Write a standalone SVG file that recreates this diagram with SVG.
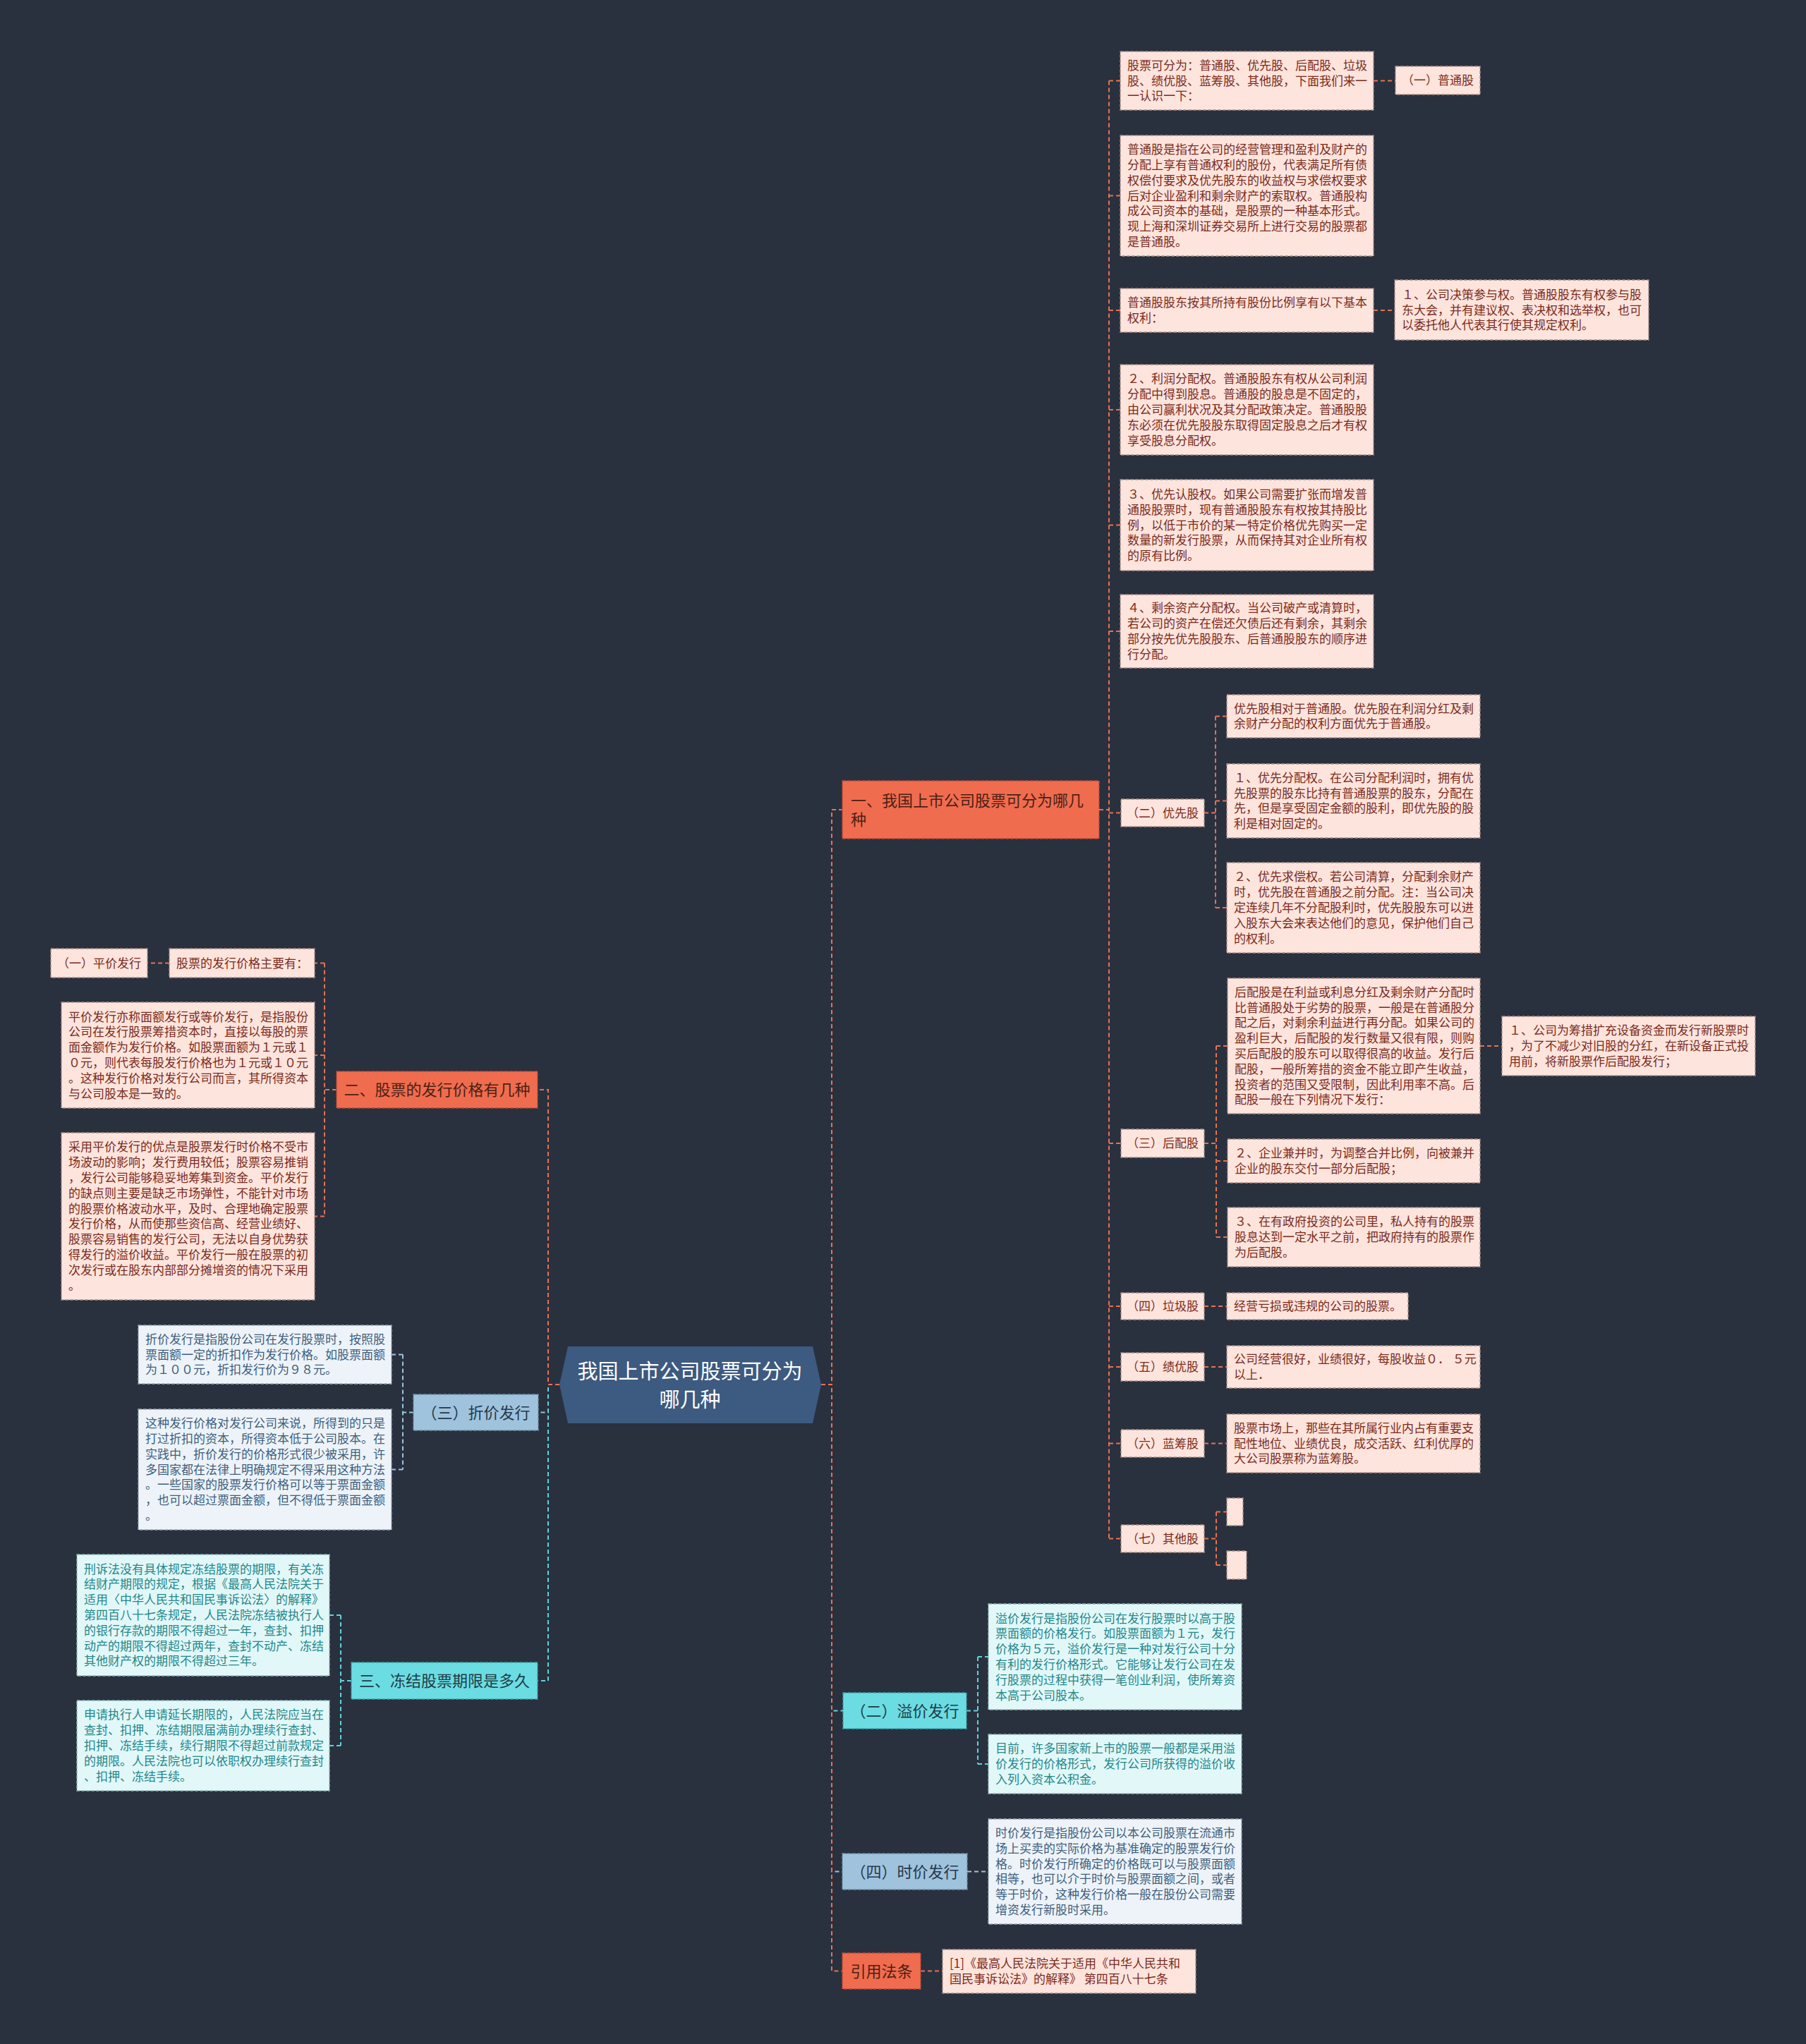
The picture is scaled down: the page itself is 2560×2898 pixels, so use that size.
<svg xmlns="http://www.w3.org/2000/svg" width="2560" height="2898" viewBox="0 0 2560 2898">
<style>
text{font-family:"Noto Sans CJK SC","Noto Sans",sans-serif}
.cn{fill:none;stroke-width:2;stroke-dasharray:6,4}
.or{stroke:#e9704f}.cy{stroke:#5fd3dc}.bl{stroke:#9cc3de}
.box{stroke-width:1.3;stroke-dasharray:5,2}
.lp{fill:#fde4dc;stroke:#a98f88}
.lc{fill:#e2f8f8;stroke:#8fb4b6}
.lb{fill:#edf3f8;stroke:#95a6b4}
.no{fill:#f06c4e;stroke:#b84a33}
.nc{fill:#6cdce3;stroke:#3f9ea5}
.nb{fill:#9fc3dc;stroke:#6f90a8}
.tp{fill:#7b2b1d;font-size:17px}
.tc{fill:#23878c;font-size:17px}
.tb{fill:#3d5f80;font-size:17px}
.to{fill:#4d1f14;font-size:22px}
.tcy{fill:#1d3c44;font-size:22px}
.tbl{fill:#26394d;font-size:22px}
.m{text-anchor:middle}
</style>
<rect width="2560" height="2898" fill="#29313f"/>
<g id="connectors">
<path class="cn or" d="M1164,1963H1179V1148H1194"/>
<path class="cn cy" d="M1164,1963H1179V2425.5H1195"/>
<path class="cn bl" d="M1164,1963H1179V2653.5H1194"/>
<path class="cn or" d="M1164,1963H1179V2794.5H1194"/>
<path class="cn bl" d="M793,1963H777V2002.5H763"/>
<path class="cn cy" d="M793,1963H777V2383H762"/>
<path class="cn or" d="M793,1963H777V1545H762"/>
<path class="cn or" d="M1558,1148H1572"/>
<path class="cn or" d="M1572,114.5V2181.5"/>
<path class="cn or" d="M1572,114.5H1588M1572,277.5H1588M1572,440H1588M1572,581H1588M1572,744.5H1588M1572,895H1588M1572,1152.5H1589M1572,1621H1589M1572,1852H1589M1572,1938H1589M1572,2046.5H1589M1572,2181.5H1589"/>
<path class="cn or" d="M1947,114.5H1978M1947,440H1977"/>
<path class="cn or" d="M1707,1152.5H1723M1723,1015.5V1287M1723,1015.5H1739M1723,1135.5H1739M1723,1287H1739"/>
<path class="cn or" d="M1707,1621H1724M1724,1483V1754M1724,1483H1740M1724,1646H1740M1724,1754H1740M2098,1483H2129"/>
<path class="cn or" d="M1707,1852H1739M1707,1938H1739M1707,2046.5H1739M1707,2181.5H1724M1724,2143.5V2219M1724,2143.5H1739M1724,2219H1739"/>
<path class="cn or" d="M477,1545H460M460,1365.5V1724.5M460,1365.5H446M460,1496H446M460,1724.5H446M240,1365.5H209"/>
<path class="cn bl" d="M586,2002.5H571M571,1920.5V2083.5M571,1920.5H555M571,2083.5H555"/>
<path class="cn cy" d="M498,2383H483M483,2290V2475M483,2290H467M483,2475H467"/>
<path class="cn cy" d="M1370,2425.5H1386M1386,2349V2501M1386,2349H1401M1386,2501H1401"/>
<path class="cn bl" d="M1371,2653.5H1401"/>
<path class="cn or" d="M1305,2794.5H1336"/>
</g>
<g id="center">
<polygon points="793,1963 805,1909 1152,1909 1164,1963 1152,2018 805,2018" fill="#3d5a80"/>
<text x="978" fill="#ffffff" font-size="29" class="m"><tspan x="978" y="1955">我国上市公司股票可分为</tspan><tspan x="978" y="1995">哪几种</tspan></text>
</g>
<g id="b1">
<rect class="box no" x="1194" y="1107" width="364" height="82"/>
<text class="to"><tspan x="1206" y="1143">一、我国上市公司股票可分为哪几</tspan><tspan x="1206" y="1170">种</tspan></text>
</g>
<g id="b1-intro">
<rect class="box lp" x="1588" y="73" width="359" height="83"/>
<text class="tp"><tspan x="1598" y="99">股票可分为：普通股、优先股、后配股、垃圾</tspan><tspan x="1598" y="121">股、绩优股、蓝筹股、其他股，下面我们来一</tspan><tspan x="1598" y="142">一认识一下：</tspan></text>
</g>
<g id="b1-ptg">
<rect class="box lp" x="1978" y="94" width="120" height="40"/>
<text class="tp m" x="2038" y="120">（一）普通股</text>
</g>
<g id="b1-def">
<rect class="box lp" x="1588" y="192" width="359" height="171"/>
<text class="tp"><tspan x="1598" y="218">普通股是指在公司的经营管理和盈利及财产的</tspan><tspan x="1598" y="240">分配上享有普通权利的股份，代表满足所有债</tspan><tspan x="1598" y="262">权偿付要求及优先股东的收益权与求偿权要求</tspan><tspan x="1598" y="283.5">后对企业盈利和剩余财产的索取权。普通股构</tspan><tspan x="1598" y="305">成公司资本的基础，是股票的一种基本形式。</tspan><tspan x="1598" y="327">现上海和深圳证券交易所上进行交易的股票都</tspan><tspan x="1598" y="349">是普通股。</tspan></text>
</g>
<g id="b1-rights">
<rect class="box lp" x="1588" y="409" width="359" height="62"/>
<text class="tp"><tspan x="1598" y="435">普通股股东按其所持有股份比例享有以下基本</tspan><tspan x="1598" y="457">权利：</tspan></text>
</g>
<g id="b1-r1">
<rect class="box lp" x="1977" y="397" width="360" height="85"/>
<text class="tp"><tspan x="1987" y="424">１、公司决策参与权。普通股股东有权参与股</tspan><tspan x="1987" y="445.5">东大会，并有建议权、表决权和选举权，也可</tspan><tspan x="1987" y="467">以委托他人代表其行使其规定权利。</tspan></text>
</g>
<g id="b1-r2">
<rect class="box lp" x="1588" y="517" width="359" height="128"/>
<text class="tp"><tspan x="1598" y="543.4">２、利润分配权。普通股股东有权从公司利润</tspan><tspan x="1598" y="565.2">分配中得到股息。普通股的股息是不固定的，</tspan><tspan x="1598" y="587">由公司赢利状况及其分配政策决定。普通股股</tspan><tspan x="1598" y="608.8">东必须在优先股股东取得固定股息之后才有权</tspan><tspan x="1598" y="630.6">享受股息分配权。</tspan></text>
</g>
<g id="b1-r3">
<rect class="box lp" x="1588" y="680" width="359" height="129"/>
<text class="tp"><tspan x="1598" y="706.9">３、优先认股权。如果公司需要扩张而增发普</tspan><tspan x="1598" y="728.7">通股股票时，现有普通股股东有权按其持股比</tspan><tspan x="1598" y="750.5">例，以低于市价的某一特定价格优先购买一定</tspan><tspan x="1598" y="772.3">数量的新发行股票，从而保持其对企业所有权</tspan><tspan x="1598" y="794.1">的原有比例。</tspan></text>
</g>
<g id="b1-r4">
<rect class="box lp" x="1588" y="843" width="359" height="104"/>
<text class="tp"><tspan x="1598" y="868.3">４、剩余资产分配权。当公司破产或清算时，</tspan><tspan x="1598" y="890.1">若公司的资产在偿还欠债后还有剩余，其剩余</tspan><tspan x="1598" y="911.9">部分按先优先股股东、后普通股股东的顺序进</tspan><tspan x="1598" y="933.7">行分配。</tspan></text>
</g>
<g id="b1-yxg">
<rect class="box lp" x="1589" y="1133" width="118" height="39"/>
<text class="tp m" x="1648" y="1158.5">（二）优先股</text>
</g>
<g id="yxg-a">
<rect class="box lp" x="1739" y="985" width="359" height="61"/>
<text class="tp"><tspan x="1749" y="1010.6">优先股相对于普通股。优先股在利润分红及剩</tspan><tspan x="1749" y="1032.4">余财产分配的权利方面优先于普通股。</tspan></text>
</g>
<g id="yxg-b">
<rect class="box lp" x="1739" y="1083" width="359" height="105"/>
<text class="tp"><tspan x="1749" y="1108.8">１、优先分配权。在公司分配利润时，拥有优</tspan><tspan x="1749" y="1130.6">先股票的股东比持有普通股票的股东，分配在</tspan><tspan x="1749" y="1152.4">先，但是享受固定金额的股利，即优先股的股</tspan><tspan x="1749" y="1174.2">利是相对固定的。</tspan></text>
</g>
<g id="yxg-c">
<rect class="box lp" x="1739" y="1223" width="359" height="128"/>
<text class="tp"><tspan x="1749" y="1249.4">２、优先求偿权。若公司清算，分配剩余财产</tspan><tspan x="1749" y="1271.2">时，优先股在普通股之前分配。注：当公司决</tspan><tspan x="1749" y="1293">定连续几年不分配股利时，优先股股东可以进</tspan><tspan x="1749" y="1314.8">入股东大会来表达他们的意见，保护他们自己</tspan><tspan x="1749" y="1336.6">的权利。</tspan></text>
</g>
<g id="b1-hpg">
<rect class="box lp" x="1589" y="1601" width="118" height="40"/>
<text class="tp m" x="1648" y="1627">（三）后配股</text>
</g>
<g id="hpg-a">
<rect class="box lp" x="1740" y="1387" width="358" height="192"/>
<text class="tp"><tspan x="1750" y="1412.7">后配股是在利益或利息分红及剩余财产分配时</tspan><tspan x="1750" y="1434.5">比普通股处于劣势的股票，一般是在普通股分</tspan><tspan x="1750" y="1456.3">配之后，对剩余利益进行再分配。如果公司的</tspan><tspan x="1750" y="1478.1">盈利巨大，后配股的发行数量又很有限，则购</tspan><tspan x="1750" y="1499.9">买后配股的股东可以取得很高的收益。发行后</tspan><tspan x="1750" y="1521.7">配股，一般所筹措的资金不能立即产生收益，</tspan><tspan x="1750" y="1543.5">投资者的范围又受限制，因此利用率不高。后</tspan><tspan x="1750" y="1565.3">配股一般在下列情况下发行：</tspan></text>
</g>
<g id="hpg-a1">
<rect class="box lp" x="2129" y="1441" width="359" height="84"/>
<text class="tp"><tspan x="2139" y="1467.2">１、公司为筹措扩充设备资金而发行新股票时</tspan><tspan x="2139" y="1489">，为了不减少对旧股的分红，在新设备正式投</tspan><tspan x="2139" y="1510.8">用前，将新股票作后配股发行；</tspan></text>
</g>
<g id="hpg-b">
<rect class="box lp" x="1740" y="1615" width="358" height="62"/>
<text class="tp"><tspan x="1750" y="1641.1">２、企业兼并时，为调整合并比例，向被兼并</tspan><tspan x="1750" y="1662.9">企业的股东交付一部分后配股；</tspan></text>
</g>
<g id="hpg-c">
<rect class="box lp" x="1740" y="1712" width="358" height="84"/>
<text class="tp"><tspan x="1750" y="1738.2">３、在有政府投资的公司里，私人持有的股票</tspan><tspan x="1750" y="1760">股息达到一定水平之前，把政府持有的股票作</tspan><tspan x="1750" y="1781.8">为后配股。</tspan></text>
</g>
<g id="b1-ljg">
<rect class="box lp" x="1589" y="1833" width="118" height="38"/>
<text class="tp m" x="1648" y="1858">（四）垃圾股</text>
</g>
<g id="ljg-a">
<rect class="box lp" x="1739" y="1833" width="257" height="38"/>
<text class="tp" x="1749" y="1858">经营亏损或违规的公司的股票。</text>
</g>
<g id="b1-jyg">
<rect class="box lp" x="1589" y="1918" width="118" height="40"/>
<text class="tp m" x="1648" y="1944">（五）绩优股</text>
</g>
<g id="jyg-a">
<rect class="box lp" x="1739" y="1908" width="359" height="60"/>
<text class="tp"><tspan x="1749" y="1933.1">公司经营很好，业绩很好，每股收益０． ５元</tspan><tspan x="1749" y="1954.9">以上．</tspan></text>
</g>
<g id="b1-lcg">
<rect class="box lp" x="1589" y="2027" width="118" height="39"/>
<text class="tp m" x="1648" y="2052.5">（六）蓝筹股</text>
</g>
<g id="lcg-a">
<rect class="box lp" x="1739" y="2005" width="359" height="83"/>
<text class="tp"><tspan x="1749" y="2030.7">股票市场上，那些在其所属行业内占有重要支</tspan><tspan x="1749" y="2052.5">配性地位、业绩优良，成交活跃、红利优厚的</tspan><tspan x="1749" y="2074.3">大公司股票称为蓝筹股。</tspan></text>
</g>
<g id="b1-qtg">
<rect class="box lp" x="1589" y="2162" width="118" height="39"/>
<text class="tp m" x="1648" y="2187.5">（七）其他股</text>
</g>
<g id="qtg-a"><rect class="box lp" x="1739" y="2124" width="23" height="39"/></g>
<g id="qtg-b"><rect class="box lp" x="1739" y="2199" width="28" height="40"/></g>
<g id="b2">
<rect class="box no" x="477" y="1519" width="285" height="52"/>
<text class="to m" x="619.5" y="1553">二、股票的发行价格有几种</text>
</g>
<g id="b2-main">
<rect class="box lp" x="240" y="1345" width="206" height="41"/>
<text class="tp" x="250" y="1371.5">股票的发行价格主要有：</text>
</g>
<g id="b2-pj">
<rect class="box lp" x="72" y="1345" width="137" height="41"/>
<text class="tp m" x="140.5" y="1371.5">（一）平价发行</text>
</g>
<g id="b2-pj1">
<rect class="box lp" x="87" y="1421" width="359" height="150"/>
<text class="tp"><tspan x="97" y="1447.5">平价发行亦称面额发行或等价发行，是指股份</tspan><tspan x="97" y="1469.3">公司在发行股票筹措资本时，直接以每股的票</tspan><tspan x="97" y="1491.1">面金额作为发行价格。如股票面额为１元或１</tspan><tspan x="97" y="1512.9">０元，则代表每股发行价格也为１元或１０元</tspan><tspan x="97" y="1534.7">。这种发行价格对发行公司而言，其所得资本</tspan><tspan x="97" y="1556.5">与公司股本是一致的。</tspan></text>
</g>
<g id="b2-pj2">
<rect class="box lp" x="87" y="1606" width="359" height="237"/>
<text class="tp"><tspan x="97" y="1632.4">采用平价发行的优点是股票发行时价格不受市</tspan><tspan x="97" y="1654.2">场波动的影响；发行费用较低；股票容易推销</tspan><tspan x="97" y="1676">，发行公司能够稳妥地筹集到资金。平价发行</tspan><tspan x="97" y="1697.8">的缺点则主要是缺乏市场弹性，不能针对市场</tspan><tspan x="97" y="1719.6">的股票价格波动水平，及时、合理地确定股票</tspan><tspan x="97" y="1741.4">发行价格，从而使那些资信高、经营业绩好、</tspan><tspan x="97" y="1763.2">股票容易销售的发行公司，无法以自身优势获</tspan><tspan x="97" y="1785">得发行的溢价收益。平价发行一般在股票的初</tspan><tspan x="97" y="1806.8">次发行或在股东内部部分摊增资的情况下采用</tspan><tspan x="97" y="1828.6">。</tspan></text>
</g>
<g id="zj">
<rect class="box nb" x="586" y="1977" width="177" height="51"/>
<text class="tbl m" x="674.5" y="2010.5">（三）折价发行</text>
</g>
<g id="zj-a">
<rect class="box lb" x="196" y="1879" width="359" height="83"/>
<text class="tb"><tspan x="206" y="1904.7">折价发行是指股份公司在发行股票时，按照股</tspan><tspan x="206" y="1926.5">票面额一定的折扣作为发行价格。如股票面额</tspan><tspan x="206" y="1948.3">为１００元，折扣发行价为９８元。</tspan></text>
</g>
<g id="zj-b">
<rect class="box lb" x="196" y="1998" width="359" height="171"/>
<text class="tb"><tspan x="206" y="2024.1">这种发行价格对发行公司来说，所得到的只是</tspan><tspan x="206" y="2045.9">打过折扣的资本，所得资本低于公司股本。在</tspan><tspan x="206" y="2067.7">实践中，折价发行的价格形式很少被采用，许</tspan><tspan x="206" y="2089.5">多国家都在法律上明确规定不得采用这种方法</tspan><tspan x="206" y="2111.3">。一些国家的股票发行价格可以等于票面金额</tspan><tspan x="206" y="2133.1">，也可以超过票面金额，但不得低于票面金额</tspan><tspan x="206" y="2154.9">。</tspan></text>
</g>
<g id="b3">
<rect class="box nc" x="498" y="2357" width="264" height="52"/>
<text class="tcy m" x="630" y="2391">三、冻结股票期限是多久</text>
</g>
<g id="b3-a">
<rect class="box lc" x="109" y="2204" width="358" height="172"/>
<text class="tc"><tspan x="119" y="2230.6">刑诉法没有具体规定冻结股票的期限，有关冻</tspan><tspan x="119" y="2252.4">结财产期限的规定，根据《最高人民法院关于</tspan><tspan x="119" y="2274.2">适用〈中华人民共和国民事诉讼法〉的解释》</tspan><tspan x="119" y="2296">第四百八十七条规定，人民法院冻结被执行人</tspan><tspan x="119" y="2317.8">的银行存款的期限不得超过一年，查封、扣押</tspan><tspan x="119" y="2339.6">动产的期限不得超过两年，查封不动产、冻结</tspan><tspan x="119" y="2361.4">其他财产权的期限不得超过三年。</tspan></text>
</g>
<g id="b3-b">
<rect class="box lc" x="109" y="2411" width="358" height="128"/>
<text class="tc"><tspan x="119" y="2437.4">申请执行人申请延长期限的，人民法院应当在</tspan><tspan x="119" y="2459.2">查封、扣押、冻结期限届满前办理续行查封、</tspan><tspan x="119" y="2481">扣押、冻结手续，续行期限不得超过前款规定</tspan><tspan x="119" y="2502.8">的期限。人民法院也可以依职权办理续行查封</tspan><tspan x="119" y="2524.6">、扣押、冻结手续。</tspan></text>
</g>
<g id="yj">
<rect class="box nc" x="1195" y="2400" width="175" height="51"/>
<text class="tcy m" x="1282.5" y="2433.5">（二）溢价发行</text>
</g>
<g id="yj-a">
<rect class="box lc" x="1401" y="2274" width="359" height="150"/>
<text class="tc"><tspan x="1411" y="2300.5">溢价发行是指股份公司在发行股票时以高于股</tspan><tspan x="1411" y="2322.3">票面额的价格发行。如股票面额为１元，发行</tspan><tspan x="1411" y="2344.1">价格为５元，溢价发行是一种对发行公司十分</tspan><tspan x="1411" y="2365.9">有利的发行价格形式。它能够让发行公司在发</tspan><tspan x="1411" y="2387.7">行股票的过程中获得一笔创业利润，使所筹资</tspan><tspan x="1411" y="2409.5">本高于公司股本。</tspan></text>
</g>
<g id="yj-b">
<rect class="box lc" x="1401" y="2459" width="359" height="84"/>
<text class="tc"><tspan x="1411" y="2485.2">目前，许多国家新上市的股票一般都是采用溢</tspan><tspan x="1411" y="2507">价发行的价格形式，发行公司所获得的溢价收</tspan><tspan x="1411" y="2528.8">入列入资本公积金。</tspan></text>
</g>
<g id="sj">
<rect class="box nb" x="1194" y="2628" width="177" height="51"/>
<text class="tbl m" x="1282.5" y="2661.5">（四）时价发行</text>
</g>
<g id="sj-a">
<rect class="box lb" x="1401" y="2579" width="359" height="149"/>
<text class="tb"><tspan x="1411" y="2605">时价发行是指股份公司以本公司股票在流通市</tspan><tspan x="1411" y="2626.8">场上买卖的实际价格为基准确定的股票发行价</tspan><tspan x="1411" y="2648.6">格。时价发行所确定的价格既可以与股票面额</tspan><tspan x="1411" y="2670.4">相等，也可以介于时价与股票面额之间，或者</tspan><tspan x="1411" y="2692.2">等于时价，这种发行价格一般在股份公司需要</tspan><tspan x="1411" y="2714">增资发行新股时采用。</tspan></text>
</g>
<g id="yf">
<rect class="box no" x="1194" y="2769" width="111" height="51"/>
<text class="to m" x="1249.5" y="2802.5">引用法条</text>
</g>
<g id="yf-a">
<rect class="box lp" x="1336" y="2764" width="359" height="62"/>
<text class="tp"><tspan x="1346" y="2790.1">[1]《最高人民法院关于适用《中华人民共和</tspan><tspan x="1346" y="2811.9">国民事诉讼法》的解释》 第四百八十七条</tspan></text>
</g>
</svg>
